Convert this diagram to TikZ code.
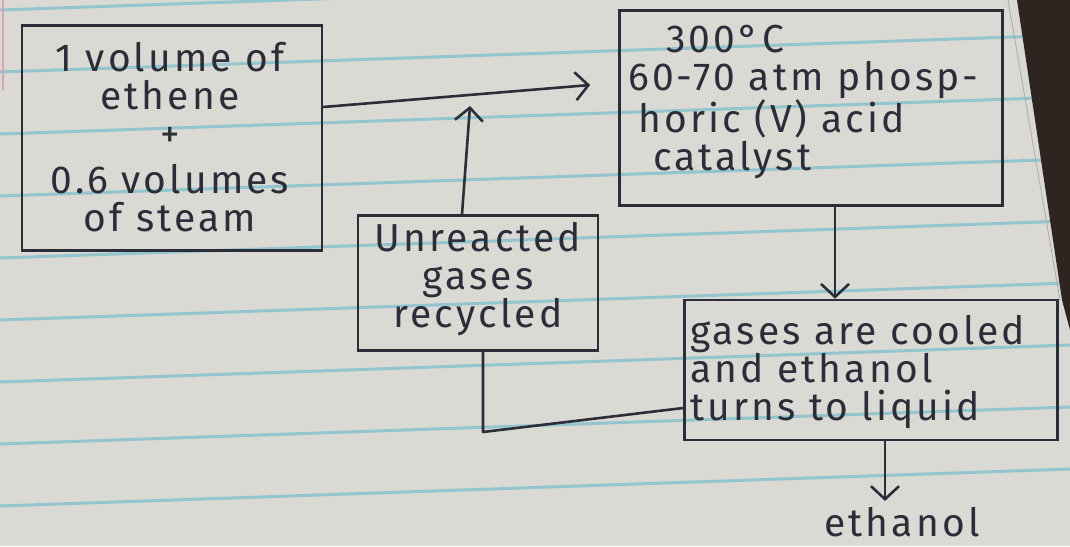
\documentclass[tikz,border=0pt]{standalone}
\usepackage{fontspec}
\setmainfont{Fira Sans}[LetterSpace=8]
\usetikzlibrary{arrows.meta}
\definecolor{paper}{HTML}{DAD9D4}
\definecolor{ruled}{HTML}{93C5CE}
\definecolor{ink}{HTML}{2B2E39}
\definecolor{shadow}{HTML}{2E2420}
\definecolor{margin}{HTML}{D9A3B5}
\tikzset{
  box/.style={draw=ink, line width=2.6pt, rectangle, inner sep=0pt},
  handtext/.style={text=ink, font=\fontsize{39}{38}\selectfont, inner sep=0pt},
  wire/.style={draw=ink, line width=2.6pt, line cap=round, line join=round},
  arrowwire/.style={wire, -{Straight Barb[length=13pt,width=28pt,line width=2.6pt]}},
  paperline/.style={draw=ruled, line width=3pt}
}
\begin{document}
\begin{tikzpicture}[x=1pt,y=-1pt]
\useasboundingbox (0,0) rectangle (1070,546);
% paper
\fill[paper] (0,0) rectangle (1070,546);
\foreach \k in {0,...,8} {
  \draw[paperline] (0,{10+62*\k}) -- (1070,{10+62*\k-37});
}
\draw[margin, line width=1.4pt] (3,0) -- (3,90);
\fill[shadow] (1017,0) -- (1070,0) -- (1070,330) -- (1062,300) -- cycle;
\draw[ink!40, line width=0.8pt] (1008,0) -- (1060,300);

% boxes
\node[box, minimum width=300pt, minimum height=225pt] (feed) at (172,138) {};
\node[box, minimum width=383pt, minimum height=195pt] (reactor) at (811,108) {};
\node[box, minimum width=240pt, minimum height=135pt] (recycle) at (478,283) {};
\node[box, minimum width=373pt, minimum height=140pt] (cooler) at (871,370) {};

% texts
\node[handtext, align=center] (feedtext) at (170,137)
  {1 volume of\\ ethene\\ +\\[8pt] 0.6 volumes\\ of steam};
\node[handtext, align=left, anchor=west] (reactortext) at (628,102)
  {\hspace{38pt}300°C\\ 60-70 atm phosp-\\ \hspace{10pt}horic (V) acid\\ \hspace{25pt}catalyst};
\node[handtext, align=center] (recycletext) at (478,279)
  {Unreacted\\ gases\\ recycled};
\node[handtext, align=left, anchor=west] (coolertext) at (690,372)
  {gases are cooled\\ and ethanol\\ turns to liquid};
\node[handtext] (eth) at (902,522) {ethanol};

% connectors
\coordinate (upTip) at (470,106);
\coordinate (rc) at (483,432);
\draw[arrowwire] ([yshift=31pt]feed.east) -- ([yshift=23pt,xshift=-28pt]reactor.west);
\draw[arrowwire] ([xshift=-16pt]recycle.north) -- (upTip);
\draw[arrowwire] ([xshift=24pt]reactor.south) -- ([xshift=-36pt]cooler.north);
\draw[wire] ([yshift=-38pt]cooler.west) -- (rc) -- ([xshift=5pt]recycle.south);
\draw[arrowwire] ([xshift=14pt]cooler.south) -- ([xshift=-17pt,yshift=6pt]eth.north);
\end{tikzpicture}
\end{document}
